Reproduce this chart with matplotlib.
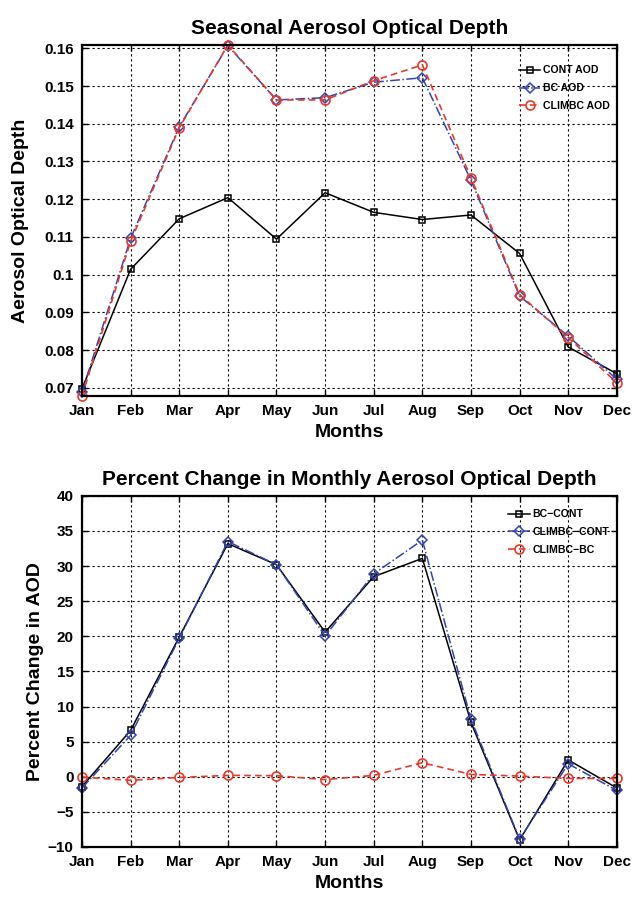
import matplotlib
matplotlib.use("Agg")
import matplotlib.pyplot as plt

plt.rcParams['font.family'] = ['Liberation Sans', 'DejaVu Sans']
plt.rcParams['font.weight'] = 'bold'

months = ['Jan', 'Feb', 'Mar', 'Apr', 'May', 'Jun', 'Jul', 'Aug', 'Sep', 'Oct', 'Nov', 'Dec']
x = list(range(1, 13))

# seasonal AOD
cont_aod = [0.0697, 0.1014, 0.1148, 0.1204, 0.1094, 0.1217, 0.1165, 0.1146, 0.1158, 0.1056, 0.0808, 0.0737]
bc_aod = [0.0688, 0.1096, 0.1392, 0.1607, 0.1463, 0.1469, 0.1510, 0.1522, 0.1250, 0.0943, 0.0837, 0.0722]
climbc_aod = [0.0678, 0.1088, 0.1389, 0.1609, 0.1463, 0.1463, 0.1514, 0.1556, 0.1257, 0.0947, 0.0833, 0.0713]

# percent change
bc_cont = [-1.4, 6.6, 19.9, 33.2, 30.2, 20.6, 28.5, 31.1, 7.75, -9.0, 2.4, -1.6]
climbc_cont = [-1.6, 5.9, 19.7, 33.5, 30.2, 20.05, 28.9, 33.7, 8.2, -8.9, 1.85, -1.95]
climbc_bc = [-0.05, -0.5, -0.1, 0.2, 0.15, -0.4, 0.2, 2.0, 0.33, 0.1, -0.24, -0.24]

top_yticks = [0.07, 0.08, 0.09, 0.1, 0.11, 0.12, 0.13, 0.14, 0.15, 0.16]
top_ylabels = ['0.07', '0.08', '0.09', '0.1', '0.11', '0.12', '0.13', '0.14', '0.15', '0.16']
bot_yticks = [-10, -5, 0, 5, 10, 15, 20, 25, 30, 35, 40]

red = '#e8392b'
blue = '#3344b0'

fig = plt.figure(figsize=(6.33, 8.98), dpi=100)


def style_axes(ax):
    ax.set_xlim(1, 12)
    ax.set_xticks(x)
    ax.set_xticklabels(months)
    ax.grid(True, color='black', linestyle=(0, (2, 2.5)), linewidth=0.8)
    ax.tick_params(direction='in', length=4, width=1, top=True, right=True, labelsize=11, pad=6)
    for s in ax.spines.values():
        s.set_linewidth(1.6)
    for lab in ax.get_xticklabels() + ax.get_yticklabels():
        lab.set_fontweight('bold')


def draw(ax, a, b, c, labels):
    ax.plot(x, a, color='black', linestyle='-', linewidth=1.1, marker='s', markersize=5,
            markerfacecolor='none', markeredgewidth=1.1, label=labels[0], clip_on=False)
    ax.plot(x, b, color=blue, linestyle='-.', linewidth=1.1, marker='D', markersize=5,
            markerfacecolor='none', markeredgewidth=1.1, label=labels[1], clip_on=False)
    ax.plot(x, c, color=red, linestyle=(0, (4, 2.5)), linewidth=1.2, marker='o', markersize=6.5,
            markerfacecolor='none', markeredgewidth=1.2, label=labels[2], clip_on=False)


ax1 = fig.add_axes([0.1295, 0.559, 0.845, 0.391])
draw(ax1, cont_aod, bc_aod, climbc_aod, ['CONT AOD', 'BC AOD', 'CLIMBC AOD'])
ax1.set_ylim(0.0678, 0.1609)
ax1.set_yticks(top_yticks)
ax1.set_yticklabels(top_ylabels)
style_axes(ax1)
ax1.set_title('Seasonal Aerosol Optical Depth', fontsize=15, fontweight='bold', pad=8)
ax1.set_xlabel('Months', fontsize=14, fontweight='bold', labelpad=4)
ax1.set_ylabel('Aerosol Optical Depth', fontsize=14, fontweight='bold', labelpad=11)
ax1.legend(loc='upper right', bbox_to_anchor=(1.0075, 0.972), frameon=False, handlelength=2.0,
           borderaxespad=0.6, labelspacing=0.75, handletextpad=0.3,
           prop={'weight': 'bold', 'size': 7.6})

ax2 = fig.add_axes([0.1295, 0.0568, 0.845, 0.391])
draw(ax2, bc_cont, climbc_cont, climbc_bc, ['BC\u2212CONT', 'CLIMBC\u2212CONT', 'CLIMBC\u2212BC'])
ax2.set_ylim(-10, 40)
ax2.set_yticks(bot_yticks)
style_axes(ax2)
ax2.set_title('Percent Change in Monthly Aerosol Optical Depth', fontsize=15, fontweight='bold', pad=8)
ax2.set_xlabel('Months', fontsize=14, fontweight='bold', labelpad=4)
ax2.set_ylabel('Percent Change in AOD', fontsize=14, fontweight='bold', labelpad=3)
ax2.legend(loc='upper right', bbox_to_anchor=(1.0, 0.983), frameon=False, handlelength=2.0,
           borderaxespad=0.3, labelspacing=0.75, handletextpad=0.3,
           prop={'weight': 'bold', 'size': 7.6})

fig.savefig('out.png', dpi=100)
